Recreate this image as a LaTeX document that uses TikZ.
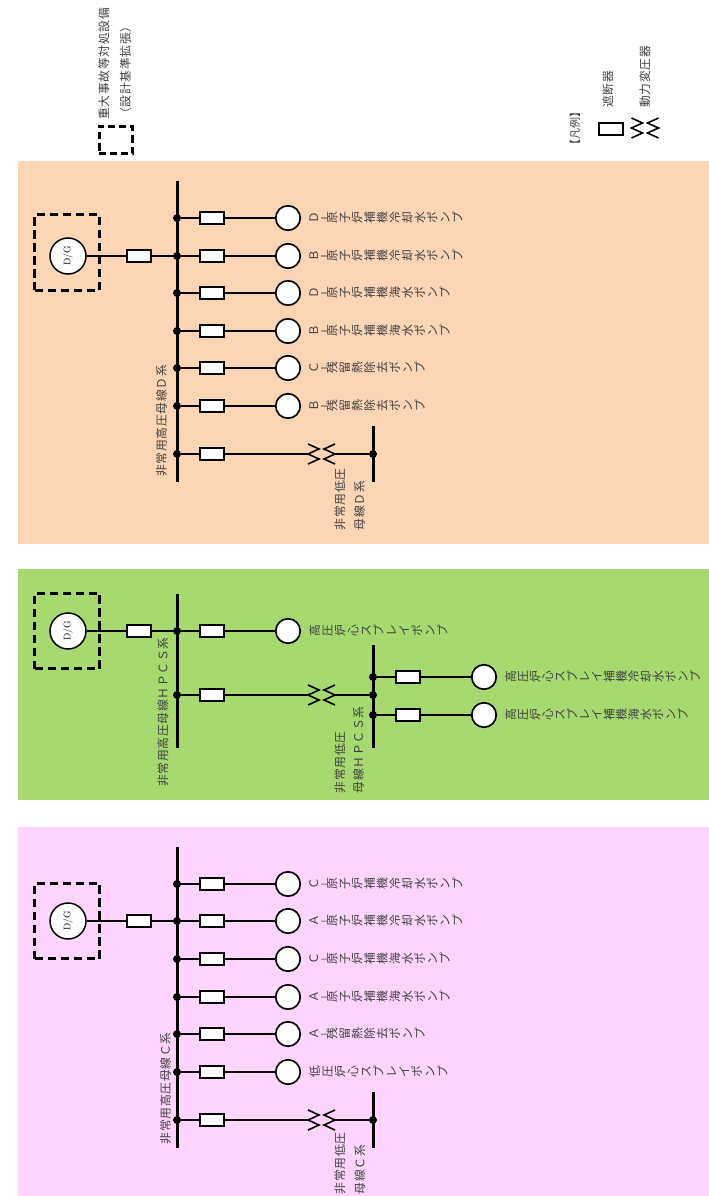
\documentclass[tikz,border=0pt]{standalone}
\usepackage{fontspec}
\newfontfamily\cjk[LetterSpace=6]{Noto Sans CJK JP}
\newfontfamily\cjkv{Noto Sans CJK JP}
\newfontfamily\cjkbar[FakeBold=3]{Noto Sans CJK JP}
\definecolor{panelD}{HTML}{FCD5B5}
\definecolor{panelH}{HTML}{A6D96F}
\definecolor{panelC}{HTML}{FFD5FF}
\definecolor{txtgray}{gray}{0.25}
\tikzstyle{brkbox} = [draw, line width=1.8pt, fill=white, minimum width=23.5pt, minimum height=12.5pt, inner sep=0pt]
\tikzstyle{pumpcirc} = [draw, circle, line width=1.7pt, fill=white, minimum size=24.5pt, inner sep=0pt]
\tikzstyle{dgcirc} = [draw, circle, line width=1.5pt, fill=white, minimum size=36pt, inner sep=0pt, rotate=90, text=black, font=\fontsize{9.5}{10}\selectfont]
\tikzstyle{jdot} = [circle, fill=black, minimum size=8pt, inner sep=0pt]
\tikzstyle{dgbox} = [draw, line width=3pt, dash pattern=on 8.5pt off 4.5pt, minimum width=65pt, minimum height=75.5pt, inner sep=0pt]
\tikzstyle{wire} = [draw, line width=1.8pt]
\tikzstyle{coilline} = [draw, line width=1.6pt]
\tikzstyle{busbar} = [draw, line width=3pt]
\tikzstyle{tatetxt} = [rotate=90, anchor=north, inner sep=0pt, text=txtgray, font=\cjkv\fontsize{11.8}{12}\selectfont]
\tikzstyle{yokotxt} = [rotate=90, anchor=west, inner sep=0pt, text=txtgray, font=\cjk\fontsize{11.8}{12}\selectfont]
\newcommand{\tatedash}{\raise1.5pt\hbox{\cjkbar\fontsize{5.5}{6}\selectfont |}}
\newcommand{\tatepitch}{12.55pt}
\def\tateline#1{\hbox to 12pt{\hss\vrule height 9pt depth 2pt width 0pt\relax #1\hss}}
\def\tateloop#1{\ifx#1\relax\else
    \ifx#1\tatedash\vskip-3.4pt\tateline{#1}\vskip-3.4pt\else\tateline{#1}\fi
    \expandafter\tateloop\fi}
\newcommand{\tate}[1]{\vbox{\baselineskip=\tatepitch\tateloop#1\relax}}
\newcommand{\pumpfeed}[4]{% #1: name; #2: bus x; #3: y; #4: label
  \node[jdot] (#1-j) at (#2,#3) {};
  \node[brkbox] (#1-b) at ({#2+35},#3) {};
  \node[pumpcirc] (#1-p) at ({#2+111},#3) {};
  \node[tatetxt] (#1-t) at ({#2+132},#3) {\tate{#4}};
  \draw[wire] (#1-j) -- (#1-b);
  \draw[wire] (#1-b) -- (#1-p);
}
\newcommand{\coilpair}[3]{% #1: name; #2: x; #3: y
  \coordinate (#1-l) at ({#2-13.5},#3);
  \coordinate (#1-r) at ({#2+13.5},#3);
  \draw[coilline] ([yshift=10pt] #1-l) -- ++(11,5) -- ++(-11,5) -- ++(11,5) -- ++(-11,5);
  \draw[coilline] ([yshift=10pt] #1-r) -- ++(-11,5) -- ++(11,5) -- ++(-11,5) -- ++(11,5);
}
\newcommand{\trafofeed}[2]{% #1: name; #2: y
  \node[jdot] (#1-j) at (177,#2) {};
  \node[brkbox] (#1-b) at (212,#2) {};
  \coilpair{#1-tr}{321.5}{#2}
  \node[jdot] (#1-lv) at (373,#2) {};
  \draw[wire] (#1-j) -- (#1-b);
  \draw[wire] (#1-b) -- (#1-tr-l);
  \draw[wire] (#1-tr-r) -- (#1-lv);
}
\newcommand{\dgfeed}[4][0]{% #1: box shift; #2: name; #3: y; #4: bus dot
  \node[dgbox] (#2-box) at (67.3,{#3+#1}) {};
  \node[dgcirc] (#2-dg) at (68,#3) {\raisebox{-3pt}{D/G}};
  \node[brkbox] (#2-cb) at (139,#3) {};
  \draw[wire] (#2-dg) -- (#2-cb);
  \draw[wire] (#2-cb) -- (#4);
}
\begin{document}
\begin{tikzpicture}[x=1pt,y=-1pt]
  \useasboundingbox (0,0) rectangle (709,1196);
  \fill[panelD] (18,161) rectangle (709,544);
  \fill[panelH] (18,569) rectangle (709,800);
  \fill[panelC] (18,827) rectangle (709,1196);
  % legend
  \node[dgbox, minimum width=33pt, minimum height=27pt, dash pattern=on 7pt off 4pt] (leg-box) at (115.5,140) {};
  \node[yokotxt] (leg-t1) at (104,120) {重大事故等対処設備};
  \node[yokotxt] (leg-t2) at (125.5,120) {（設計基準拡張）};
  \node[yokotxt, font=\cjkv\fontsize{11}{12}\selectfont] (leg-t3) at (575,151) {【凡例】};
  \node[yokotxt] (leg-t4) at (608,108) {遮断器};
  \node[brkbox, fill=none] (leg-b) at (611,129) {};
  \node[yokotxt] (leg-t5) at (645,108) {動力変圧器};
  \coilpair{leg-tr}{645}{128}
  % D
  \coordinate (d-top) at (177,181);
  \coordinate (d-bot) at (177,482);
  \draw[busbar] (d-top) -- (d-bot);
  \pumpfeed{d1}{177}{218}{Ｄ\tatedash 原子炉補機冷却水ポンプ}
  \pumpfeed{d2}{177}{256}{Ｂ\tatedash 原子炉補機冷却水ポンプ}
  \pumpfeed{d3}{177}{293}{Ｄ\tatedash 原子炉補機海水ポンプ}
  \pumpfeed{d4}{177}{331}{Ｂ\tatedash 原子炉補機海水ポンプ}
  \pumpfeed{d5}{177}{368}{Ｃ\tatedash 残留熱除去ポンプ}
  \pumpfeed{d6}{177}{406}{Ｂ\tatedash 残留熱除去ポンプ}
  \trafofeed{d7}{454}
  \dgfeed[-3.5]{d}{256}{d2-j}
  \coordinate (dl-top) at (373,426);
  \coordinate (dl-bot) at (373,482);
  \draw[busbar] (dl-top) -- (dl-bot);
  \node[yokotxt] (d-lab) at (161.5,477) {非常用高圧母線Ｄ系};
  \node[yokotxt] (dl-lab1) at (340,530.5) {非常用低圧};
  \node[yokotxt] (dl-lab2) at (359.5,530.5) {母線Ｄ系};
  % HPCS
  \coordinate (h-top) at (177,594);
  \coordinate (h-bot) at (177,748);
  \draw[busbar] (h-top) -- (h-bot);
  {\renewcommand{\tatepitch}{12.8pt}
  \pumpfeed{h1}{177}{631}{高圧炉心スプレイポンプ}}
  \trafofeed{h2}{695}
  \dgfeed{h}{631}{h1-j}
  \coordinate (hl-top) at (373,645);
  \coordinate (hl-bot) at (373,748);
  \draw[busbar] (hl-top) -- (hl-bot);
  {\renewcommand{\tatepitch}{12.3pt}
  \pumpfeed{h3}{373}{677}{高圧炉心スプレイ補機冷却水ポンプ}
  \pumpfeed{h4}{373}{715}{高圧炉心スプレイ補機海水ポンプ}}
  \node[yokotxt] (h-lab) at (163,787) {非常用高圧母線ＨＰＣＳ系};
  \node[yokotxt] (hl-lab1) at (340,793.5) {非常用低圧};
  \node[yokotxt] (hl-lab2) at (358.5,793.5) {母線ＨＰＣＳ系};
  % C
  \coordinate (c-top) at (177,847);
  \coordinate (c-bot) at (177,1148);
  \draw[busbar] (c-top) -- (c-bot);
  \pumpfeed{c1}{177}{884}{Ｃ\tatedash 原子炉補機冷却水ポンプ}
  \pumpfeed{c2}{177}{921}{Ａ\tatedash 原子炉補機冷却水ポンプ}
  \pumpfeed{c3}{177}{959}{Ｃ\tatedash 原子炉補機海水ポンプ}
  \pumpfeed{c4}{177}{997}{Ａ\tatedash 原子炉補機海水ポンプ}
  \pumpfeed{c5}{177}{1034}{Ａ\tatedash 残留熱除去ポンプ}
  {\renewcommand{\tatepitch}{12.8pt}
  \pumpfeed{c6}{177}{1072}{低圧炉心スプレイポンプ}}
  \trafofeed{c7}{1120}
  \dgfeed{c}{921}{c2-j}
  \coordinate (cl-top) at (373,1092);
  \coordinate (cl-bot) at (373,1148);
  \draw[busbar] (cl-top) -- (cl-bot);
  \node[yokotxt] (c-lab) at (165.5,1144.5) {非常用高圧母線Ｃ系};
  \node[yokotxt] (cl-lab1) at (340,1194.5) {非常用低圧};
  \node[yokotxt] (cl-lab2) at (360,1194.5) {母線Ｃ系};
\end{tikzpicture}
\end{document}
